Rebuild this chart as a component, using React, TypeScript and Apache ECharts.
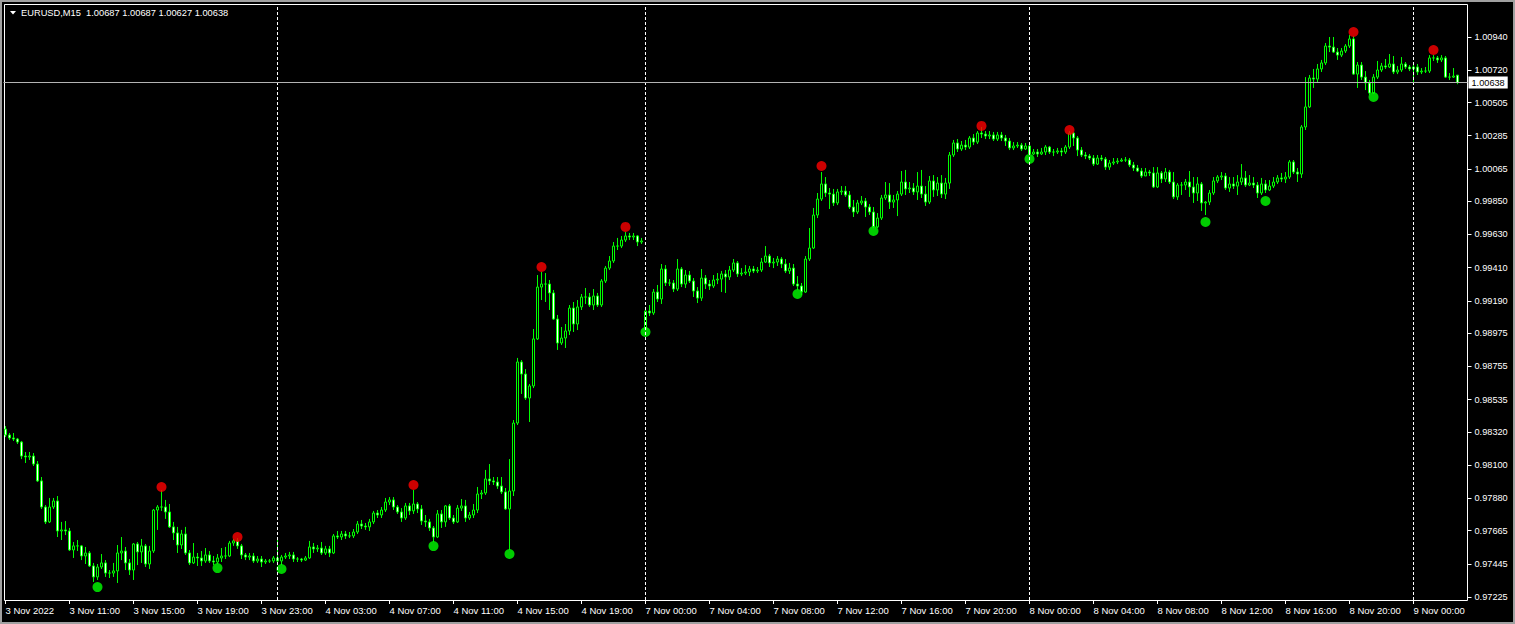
import React, { useEffect, useRef } from 'react';
import * as echarts from 'echarts';

const symbolName = 'EURUSD,M15';
const PT = 100000; // prices stored in points (1e-5)

const xTickLabels = [
  '3 Nov 2022', '3 Nov 11:00', '3 Nov 15:00', '3 Nov 19:00', '3 Nov 23:00', '4 Nov 03:00',
  '4 Nov 07:00', '4 Nov 11:00', '4 Nov 15:00', '4 Nov 19:00', '7 Nov 00:00', '7 Nov 04:00',
  '7 Nov 08:00', '7 Nov 12:00', '7 Nov 16:00', '7 Nov 20:00', '8 Nov 00:00', '8 Nov 04:00',
  '8 Nov 08:00', '8 Nov 12:00', '8 Nov 16:00', '8 Nov 20:00', '9 Nov 00:00',
];
const barsPerLabel = 16;

const yTickValues = [
  0.97225, 0.97445, 0.97665, 0.9788, 0.981, 0.9832, 0.98535, 0.98755, 0.98975,
  0.9919, 0.9941, 0.9963, 0.9985, 1.00065, 1.00285, 1.00505, 1.0072, 1.0094,
];
const yMin = 0.972051;
const yMax = 1.011589;

const daySeparators = [68, 160, 256, 352];

const opens = [
  98339,98300,98280,98273,98253,98160,98154,98160,98107,97995,
  97822,97723,97822,97862,97663,97670,97663,97537,97564,97564,
  97497,97517,97431,97358,97424,97451,97384,97384,97398,97517,
  97530,97451,97404,97577,97524,97564,97444,97530,97802,97822,
  97822,97789,97690,97650,97570,97643,97517,97451,97490,97484,
  97464,97504,97464,97457,97484,97497,97497,97583,97597,97564,
  97504,97490,97497,97464,97477,97457,97464,97464,97484,97464,
  97490,97497,97504,97477,97477,97470,97484,97557,97544,97550,
  97517,97544,97517,97630,97623,97643,97630,97630,97656,97709,
  97696,97690,97723,97782,97769,97802,97855,97869,97822,97789,
  97749,97829,97796,97842,97809,97729,97723,97683,97623,97776,
  97723,97829,97749,97723,97815,97829,97749,97769,97802,97908,
  97915,98008,97995,97988,97961,97922,97809,97928,98379,98784,
  98704,98545,98625,98937,99281,99301,99301,99242,99069,98910,
  98943,98990,99142,99036,99149,99215,99215,99162,99222,99162,
  99321,99407,99454,99553,99553,99593,99620,99613,99620,99580,
  99003,99122,99109,99248,99202,99401,99308,99308,99268,99401,
  99301,99361,99321,99255,99208,99341,99301,99288,99328,99334,
  99368,99348,99394,99441,99368,99374,99381,99401,99388,99394,
  99447,99487,99441,99447,99467,99434,99388,99407,99301,99288,
  99248,99467,99540,99759,99865,99965,99905,99898,99839,99912,
  99918,99892,99812,99779,99839,99852,99812,99779,99680,99739,
  99872,99892,99845,99859,99898,99978,99932,99938,99912,99951,
  99898,99845,99985,99925,99971,99898,99971,100157,100237,100197,
  100223,100210,100270,100243,100303,100296,100283,100290,100263,100290,
  100270,100250,100204,100217,100223,100197,100217,100164,100177,100164,
  100177,100210,100177,100177,100184,100177,100210,100303,100270,100190,
  100157,100150,100137,100097,100137,100130,100077,100104,100111,100117,
  100124,100124,100091,100071,100051,100018,100044,100038,99945,100038,
  99998,100044,99978,99879,99958,99958,99978,99945,99905,99965,
  99839,99845,99905,99985,100011,100018,99938,99965,99951,99978,
  100005,99958,99971,99958,99905,99965,99925,99951,99978,100005,
  99998,100011,100111,100044,100031,100343,100476,100668,100661,100728,
  100768,100880,100873,100840,100820,100847,100880,100927,100694,100754,
  100674,100635,100568,100674,100721,100748,100741,100761,100708,100721,
  100761,100741,100728,100741,100708,100714,100714,100801,100801,100788,
  100801,100674,100674,100687,
];

const highs = [
  98359,98313,98313,98280,98260,98187,98187,98180,98127,98021,
  97835,97882,97882,97895,97723,97729,97683,97590,97603,97570,
  97557,97530,97451,97444,97510,97470,97404,97451,97570,97623,
  97557,97477,97583,97590,97610,97577,97564,97809,97835,97935,
  97869,97842,97723,97690,97670,97690,97537,97583,97517,97530,
  97550,97530,97497,97510,97550,97557,97597,97610,97616,97577,
  97517,97517,97517,97497,97497,97477,97477,97497,97616,97504,
  97517,97524,97524,97490,97484,97497,97597,97583,97570,97590,
  97564,97564,97643,97663,97663,97663,97656,97676,97729,97736,
  97716,97743,97796,97802,97822,97882,97888,97888,97835,97815,
  97849,97849,97935,97855,97835,97769,97743,97696,97802,97802,
  97835,97842,97769,97835,97875,97869,97789,97842,97955,97935,
  98068,98107,98021,98021,98021,97948,98140,98399,98811,98797,
  98737,98638,99003,99361,99381,99374,99328,99262,99096,99016,
  99036,99162,99182,99195,99235,99275,99242,99268,99242,99334,
  99421,99487,99580,99607,99620,99646,99640,99640,99626,99607,
  99136,99162,99268,99295,99434,99427,99334,99328,99467,99414,
  99394,99388,99341,99281,99401,99361,99328,99361,99374,99388,
  99394,99421,99467,99454,99407,99427,99421,99421,99414,99474,
  99553,99500,99474,99487,99480,99467,99441,99434,99354,99308,
  99487,99673,99806,99905,100044,100011,99938,99932,99932,99951,
  99951,99918,99859,99859,99885,99872,99832,99812,99772,99892,
  99978,99971,99892,99918,100051,100058,99978,99971,100044,100058,
  99951,100018,100024,100011,100024,100005,100177,100257,100263,100250,
  100257,100283,100296,100316,100343,100316,100316,100310,100310,100310,
  100290,100270,100243,100243,100237,100237,100230,100197,100197,100204,
  100223,100217,100197,100204,100204,100223,100316,100310,100283,100210,
  100177,100164,100157,100157,100157,100144,100124,100137,100137,100137,
  100144,100137,100111,100091,100071,100071,100058,100077,100077,100051,
  100071,100058,100044,99971,99978,99998,100051,100011,100011,99978,
  99852,99925,100011,100024,100044,100038,100011,100011,100024,100097,
  100051,100024,100011,99978,100005,99991,99991,100011,100024,100038,
  100044,100124,100124,100071,100356,100674,100688,100728,100761,100788,
  100900,100940,100940,100867,100867,100893,100953,100946,100774,100774,
  100714,100655,100694,100781,100768,100794,100827,100814,100748,100807,
  100774,100754,100754,100761,100734,100741,100820,100820,100814,100820,
  100814,100701,100734,100687,
];

const lows = [
  98286,98267,98260,98240,98140,98114,98134,98094,97988,97809,
  97709,97716,97809,97623,97603,97636,97530,97484,97530,97470,
  97444,97424,97325,97338,97411,97358,97351,97358,97318,97470,
  97404,97371,97338,97437,97451,97424,97411,97517,97670,97796,
  97743,97683,97603,97517,97544,97504,97437,97444,97431,97431,
  97451,97451,97437,97444,97457,97477,97490,97564,97544,97477,
  97470,97470,97451,97451,97424,97444,97451,97451,97451,97437,
  97477,97477,97457,97457,97457,97464,97477,97517,97524,97504,
  97504,97490,97510,97610,97603,97610,97616,97616,97643,97676,
  97670,97663,97709,97749,97749,97789,97835,97802,97776,97723,
  97736,97769,97776,97782,97703,97690,97663,97590,97616,97683,
  97690,97736,97709,97716,97796,97723,97736,97749,97782,97875,
  97902,97968,97968,97942,97908,97802,97537,97895,98366,98572,
  98532,98386,98611,98930,99195,99182,99129,99063,98864,98897,
  98877,98963,98983,98996,99129,99169,99149,99129,99149,99149,
  99308,99394,99441,99527,99540,99580,99593,99593,99553,99567,
  99003,99089,99096,99182,99169,99288,99288,99248,99255,99281,
  99275,99308,99215,99175,99189,99268,99262,99275,99301,99248,
  99242,99328,99381,99348,99354,99361,99354,99374,99374,99381,
  99441,99414,99407,99421,99407,99374,99368,99288,99262,99228,
  99242,99454,99534,99739,99852,99879,99799,99819,99825,99892,
  99879,99799,99746,99766,99825,99746,99759,99673,99673,99726,
  99859,99799,99806,99752,99885,99892,99905,99892,99859,99872,
  99819,99832,99879,99885,99872,99865,99932,100144,100177,100184,
  100190,100197,100223,100230,100270,100263,100263,100250,100250,100250,
  100217,100190,100190,100204,100184,100190,100157,100157,100144,100157,
  100157,100164,100150,100164,100150,100164,100197,100217,100150,100144,
  100130,100124,100084,100091,100117,100058,100058,100091,100097,100111,
  100111,100077,100051,100044,100005,100018,100018,99938,99938,99971,
  99978,99965,99865,99859,99892,99925,99879,99839,99852,99786,
  99759,99825,99892,99971,99991,99925,99912,99932,99892,99958,
  99945,99951,99938,99872,99892,99905,99918,99938,99965,99978,
  99971,99998,100031,99978,100005,100323,100469,100602,100641,100708,
  100754,100840,100834,100788,100807,100834,100867,100688,100602,100655,
  100588,100555,100562,100661,100708,100728,100734,100694,100694,100708,
  100728,100714,100628,100688,100694,100701,100701,100781,100768,100774,
  100668,100655,100668,100627,
];

const closes = [
  98300,98280,98273,98253,98160,98154,98160,98107,97995,97822,
  97723,97822,97862,97663,97670,97663,97537,97564,97564,97497,
  97517,97431,97358,97424,97451,97384,97384,97398,97517,97530,
  97451,97404,97577,97524,97564,97444,97530,97802,97822,97822,
  97789,97690,97650,97570,97643,97517,97451,97490,97484,97464,
  97504,97464,97457,97484,97497,97497,97583,97597,97564,97504,
  97490,97497,97464,97477,97457,97464,97464,97484,97464,97490,
  97497,97504,97477,97477,97470,97484,97557,97544,97550,97517,
  97544,97517,97630,97623,97643,97630,97630,97656,97709,97696,
  97690,97723,97782,97769,97802,97855,97869,97822,97789,97749,
  97829,97796,97842,97809,97729,97723,97683,97623,97776,97723,
  97829,97749,97723,97815,97829,97749,97769,97802,97908,97915,
  98008,97995,97988,97961,97922,97809,97928,98379,98784,98704,
  98545,98625,98937,99281,99301,99301,99242,99069,98910,98943,
  98990,99142,99036,99149,99215,99215,99162,99222,99162,99321,
  99407,99454,99553,99553,99593,99620,99613,99620,99580,99587,
  99122,99109,99248,99202,99401,99308,99308,99268,99401,99301,
  99361,99321,99255,99208,99341,99301,99288,99328,99334,99368,
  99348,99394,99441,99368,99374,99381,99401,99388,99394,99447,
  99487,99441,99447,99467,99434,99388,99407,99301,99288,99248,
  99467,99540,99759,99865,99965,99905,99898,99839,99912,99918,
  99892,99812,99779,99839,99852,99812,99779,99680,99739,99872,
  99892,99845,99859,99898,99978,99932,99938,99912,99951,99898,
  99845,99985,99925,99971,99898,99971,100157,100237,100197,100223,
  100210,100270,100243,100303,100296,100283,100290,100263,100290,100270,
  100250,100204,100217,100223,100197,100217,100164,100177,100164,100177,
  100210,100177,100177,100184,100177,100210,100303,100270,100190,100157,
  100150,100137,100097,100137,100130,100077,100104,100111,100117,100124,
  100124,100091,100071,100051,100018,100044,100038,99945,100038,99998,
  100044,99978,99879,99958,99958,99978,99945,99905,99965,99839,
  99845,99905,99985,100011,100018,99938,99965,99951,99978,100005,
  99958,99971,99958,99905,99965,99925,99951,99978,100005,99998,
  100011,100111,100044,100031,100343,100476,100668,100661,100728,100768,
  100880,100873,100840,100820,100847,100880,100927,100694,100754,100674,
  100635,100568,100674,100721,100748,100741,100761,100708,100721,100761,
  100741,100728,100741,100708,100714,100714,100801,100801,100788,100801,
  100674,100674,100681,100638,
];

// fractal markers (bar index, price in points)
const upFractalIdx = [39, 58, 102, 134, 155, 204, 244, 266, 337, 357];
const upFractalPts = [97955, 97623, 97968, 99414, 99680, 100084, 100350, 100323, 100973, 100854];
const downFractalIdx = [23, 53, 69, 107, 126, 160, 198, 217, 256, 300, 315, 342];
const downFractalPts = [97291, 97417, 97411, 97563, 97510, 98983, 99235, 99653, 100131, 99713, 99852, 100542];

const FONT = '"Liberation Sans", Arial, sans-serif';

export default function App() {
  const ref = useRef<HTMLDivElement>(null);

  useEffect(() => {
    if (!ref.current) return;
    const chart = echarts.init(ref.current, null, { renderer: 'svg' });
    const nCats = 366;
    const cats = Array.from({ length: nCats }, (_, i) => String(i));
    const candles = opens.map((o, i) => [o / PT, closes[i] / PT, lows[i] / PT, highs[i] / PT]);
    const last = opens.length - 1;
    const fmt = (v: number) => (v / PT).toFixed(5);
    const title = `${symbolName}  ${fmt(opens[last])} ${fmt(highs[last])} ${fmt(lows[last])} ${fmt(closes[last])}`;
    const isLabelIdx = (i: number) => i % barsPerLabel === 0;

    const option: any = {
      animation: false,
      backgroundColor: '#000',
      grid: { left: 3.5, width: 1464, top: 4, bottom: 24, show: false, containLabel: false },
      xAxis: {
        type: 'category',
        data: cats,
        boundaryGap: true,
        axisLine: { show: false },
        splitLine: { show: false },
        axisTick: {
          show: true,
          alignWithLabel: true,
          interval: (i: number) => isLabelIdx(i),
          length: 4,
          lineStyle: { color: '#fff', width: 1 },
        },
        axisLabel: {
          interval: (i: number) => isLabelIdx(i),
          formatter: (_v: string, i: number) => xTickLabels[i / barsPerLabel] ?? '',
          align: 'left',
          color: '#fff',
          fontSize: 9.5,
          fontFamily: FONT,
          margin: 5,
        },
      },
      yAxis: {
        type: 'value',
        position: 'right',
        min: yMin,
        max: yMax,
        scale: true,
        axisLine: { show: false },
        splitLine: { show: false },
        axisTick: {
          show: true,
          customValues: yTickValues,
          length: 4,
          lineStyle: { color: '#fff', width: 1 },
        },
        axisLabel: {
          customValues: yTickValues,
          formatter: (v: number) => v.toFixed(5),
          color: '#fff',
          fontSize: 9.2,
          fontFamily: FONT,
          margin: 7,
        },
      },
      graphic: [
        { type: 'rect', shape: { x: 0, y: 0, width: 1515, height: 2 }, style: { fill: '#a0a0a0' }, silent: true },
        { type: 'rect', shape: { x: 0, y: 0, width: 2, height: 624 }, style: { fill: '#a0a0a0' }, silent: true },
        { type: 'rect', shape: { x: 1513, y: 0, width: 2, height: 624 }, style: { fill: '#a0a0a0' }, silent: true },
        { type: 'rect', shape: { x: 0, y: 622, width: 1515, height: 2 }, style: { fill: '#a0a0a0' }, silent: true },
        {
          type: 'rect',
          shape: { x: 4.5, y: 4.5, width: 1463, height: 596 },
          style: { fill: 'none', stroke: '#fff', lineWidth: 1 },
          silent: true,
          z: 1,
        },
        {
          type: 'polygon',
          shape: { points: [[10, 11], [16, 11], [13, 14.5]] },
          style: { fill: '#fff' },
          silent: true,
          z: 10,
        },
        {
          type: 'text',
          x: 21,
          y: 13,
          style: {
            text: title,
            fill: '#fff',
            font: `9.3px ${FONT}`,
            textAlign: 'left',
            textVerticalAlign: 'middle',
            align: 'left',
            verticalAlign: 'middle',
          },
          silent: true,
          z: 10,
        },
      ],
      series: [
        {
          type: 'candlestick',
          data: candles,
          barWidth: 2,
          itemStyle: {
            color: '#000',
            color0: '#fff',
            borderColor: '#00ff00',
            borderColor0: '#00ff00',
            borderWidth: 1,
          },
          z: 2,
        },
        {
          type: 'scatter',
          data: upFractalIdx.map((i, k) => [i, upFractalPts[k] / PT]),
          symbol: 'circle',
          symbolSize: 10,
          itemStyle: { color: '#ff0000' },
          z: 3,
        },
        {
          type: 'scatter',
          data: downFractalIdx.map((i, k) => [i, downFractalPts[k] / PT]),
          symbol: 'circle',
          symbolSize: 10,
          itemStyle: { color: '#00ff00' },
          z: 3,
          markLine: {
            silent: true,
            symbol: ['none', 'none'],
            animation: false,
            precision: 5,
            data: [
              ...daySeparators.map((i) => ({
                xAxis: i,
                lineStyle: { color: '#fff', type: [3, 2], width: 1 },
                label: { show: false },
              })),
              {
                yAxis: closes[last] / PT,
                lineStyle: { color: '#b4b4b4', type: 'solid', width: 1 },
                label: {
                  show: true,
                  position: 'end',
                  formatter: () => fmt(closes[last]),
                  backgroundColor: '#fff',
                  color: '#000',
                  padding: [2, 3, 1, 3],
                  fontSize: 9.2,
                  fontFamily: FONT,
                  distance: 1,
                },
              },
            ],
          },
        },
      ],
    };

    chart.setOption(option);
    return () => chart.dispose();
  }, []);

  return (
    <div
      ref={ref}
      style={{ position: 'absolute', left: 0, top: 0, width: 1515, height: 624, background: '#000' }}
    />
  );
}
